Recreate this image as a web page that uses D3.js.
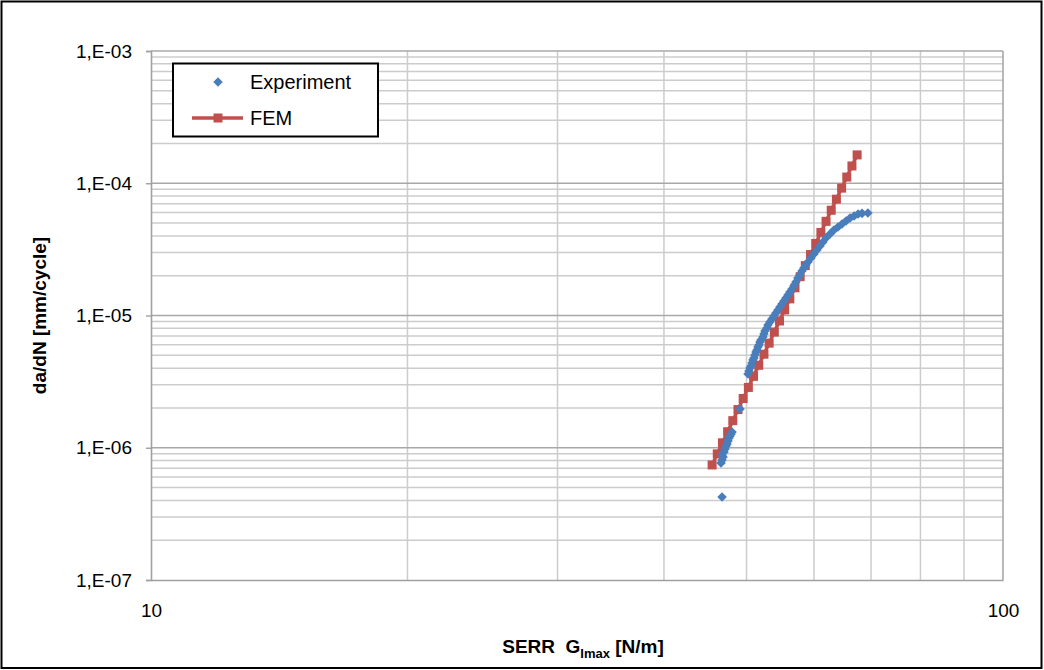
<!DOCTYPE html>
<html>
<head>
<meta charset="utf-8">
<script src="https://cdn.jsdelivr.net/npm/d3@7"></script>
<style>
  html, body { margin: 0; padding: 0; background: #ffffff; }
  svg { display: block; }
  text { font-family: "Liberation Sans", Arial, sans-serif; fill: #000; }
</style>
</head>
<body>
<svg id="chart" width="1044" height="670"></svg>
<script>
// Experiment: SERR G_Imax [N/m] vs crack growth rate da/dN [mm/cycle]
const expG = [46.80, 46.67, 46.80, 46.93, 46.80, 47.05, 47.18, 47.31, 47.44, 47.56, 47.69, 47.82, 47.95, 48.08,
  49.13, 50.20, 50.33, 50.47, 50.61, 50.74, 50.88, 51.02, 51.15, 51.29, 51.43, 51.57, 51.71, 51.85, 51.99,
  52.27, 52.41, 52.55, 52.84, 52.98, 53.26, 53.55, 53.84, 54.13, 54.43, 54.72, 55.02, 55.32, 55.62, 55.92,
  56.22, 56.53, 56.83, 57.14, 57.45, 57.76, 58.08, 58.39, 58.71, 59.03, 59.51, 60.00, 60.48, 60.98, 61.47,
  61.97, 62.65, 63.33, 64.02, 64.72, 65.43, 66.14, 66.87, 67.60, 68.33, 69.41];
const expRate = [4.24e-7, 7.67e-7, 8.08e-7, 8.51e-7, 8.81e-7, 9.29e-7, 9.78e-7, 1.031e-6, 1.068e-6, 1.125e-6,
  1.185e-6, 1.227e-6, 1.271e-6, 1.315e-6, 1.963e-6, 3.61e-6, 3.80e-6, 4.01e-6, 4.15e-6, 4.37e-6, 4.61e-6,
  4.77e-6, 5.03e-6, 5.30e-6, 5.48e-6, 5.78e-6, 5.98e-6, 6.30e-6, 6.53e-6, 6.88e-6, 7.25e-6, 7.64e-6,
  8.04e-6, 8.48e-6, 8.93e-6, 9.41e-6, 9.91e-6, 1.044e-5, 1.100e-5, 1.159e-5, 1.222e-5, 1.287e-5, 1.356e-5,
  1.429e-5, 1.506e-5, 1.586e-5, 1.671e-5, 1.791e-5, 1.921e-5, 2.024e-5, 2.170e-5, 2.286e-5, 2.409e-5,
  2.538e-5, 2.721e-5, 2.917e-5, 3.128e-5, 3.353e-5, 3.594e-5, 3.855e-5, 4.13e-5, 4.43e-5, 4.67e-5,
  4.92e-5, 5.18e-5, 5.46e-5, 5.65e-5, 5.85e-5, 5.92e-5, 5.95e-5];

// FEM prediction
const femG = [45.56, 46.20, 46.85, 47.51, 48.18, 48.86, 49.55, 50.25, 50.96, 51.68, 52.41, 53.15, 53.90, 54.66,
  55.43, 56.21, 57.00, 57.80, 58.61, 59.44, 60.28, 61.13, 61.99, 62.86, 63.75, 64.65, 65.56, 66.48, 67.42];
const femRate = [7.41e-7, 8.99e-7, 1.090e-6, 1.322e-6, 1.603e-6, 1.944e-6, 2.357e-6, 2.858e-6, 3.466e-6,
  4.203e-6, 5.097e-6, 6.180e-6, 7.494e-6, 9.088e-6, 1.102e-5, 1.336e-5, 1.620e-5, 1.965e-5, 2.383e-5,
  2.889e-5, 3.504e-5, 4.249e-5, 5.152e-5, 6.248e-5, 7.576e-5, 9.187e-5, 1.114e-4, 1.351e-4, 1.638e-4];

// Axis ticks and labels
const xTicks = [10, 100];
const xTickLabels = ["10", "100"];
const yTicks = [1e-7, 1e-6, 1e-5, 1e-4, 1e-3];
const yTickLabels = ["1,E-07", "1,E-06", "1,E-05", "1,E-04", "1,E-03"];
const seriesNames = ["Experiment", "FEM"];

const svg = d3.select("#chart");
const W = 1044, H = 670;
const plot = { left: 151, right: 1003, top: 51, bottom: 580 };

const x = d3.scaleLog().domain([10, 100]).range([plot.left, plot.right]);
const y = d3.scaleLog().domain([1e-7, 1e-3]).range([plot.bottom, plot.top]);

// outer frame
svg.append("rect").attr("x", 1.5).attr("y", 1.5).attr("width", W - 4).attr("height", H - 3.5)
  .attr("fill", "#fff").attr("stroke", "#000").attr("stroke-width", 2);

// gridlines: minor (2..9 per decade) and decade lines
const grid = svg.append("g");
const xMinor = [];
for (let m = 2; m <= 9; m++) xMinor.push(10 * m);
grid.selectAll("line.xg").data(xMinor).join("line")
  .attr("x1", d => x(d)).attr("x2", d => x(d))
  .attr("y1", plot.top).attr("y2", plot.bottom)
  .attr("stroke", "#cccccc").attr("stroke-width", 1.5);

const yMinor = [];
for (let e = -7; e < -3; e++) for (let m = 2; m <= 9; m++) yMinor.push(m * Math.pow(10, e));
grid.selectAll("line.yg").data(yMinor).join("line")
  .attr("x1", plot.left).attr("x2", plot.right)
  .attr("y1", d => y(d)).attr("y2", d => y(d))
  .attr("stroke", "#cccccc").attr("stroke-width", 1.5);

grid.selectAll("line.yM").data(yTicks.slice(1)).join("line")
  .attr("x1", plot.left).attr("x2", plot.right)
  .attr("y1", d => y(d)).attr("y2", d => y(d))
  .attr("stroke", "#a8a8a8").attr("stroke-width", 1.6);
grid.append("line").attr("x1", plot.right).attr("x2", plot.right)
  .attr("y1", plot.top).attr("y2", plot.bottom).attr("stroke", "#a8a8a8").attr("stroke-width", 1.6);

// axes
const yAxis = d3.axisLeft(y).tickValues(yTicks)
  .tickFormat((d, i) => yTickLabels[i]).tickSize(5).tickPadding(14);
const gy = svg.append("g").attr("transform", `translate(${plot.left},0)`).call(yAxis);
gy.select(".domain").attr("stroke", "#a0a0a0").attr("stroke-width", 1.6);
gy.selectAll(".tick line").attr("stroke", "#a0a0a0").attr("stroke-width", 1.4);
gy.selectAll(".tick text").attr("font-size", 19).attr("font-family", "Liberation Sans, Arial, sans-serif");

const xAxis = d3.axisBottom(x).tickValues(xTicks)
  .tickFormat((d, i) => xTickLabels[i]).tickSize(0).tickPadding(24);
const gx = svg.append("g").attr("transform", `translate(0,${plot.bottom})`).call(xAxis);
gx.select(".domain").attr("stroke", "#a0a0a0").attr("stroke-width", 1.6);
gx.selectAll(".tick text").attr("font-size", 19).attr("font-family", "Liberation Sans, Arial, sans-serif");

// axis titles
svg.append("text")
  .attr("transform", `translate(46,${(plot.top + plot.bottom) / 2}) rotate(-90)`)
  .attr("text-anchor", "middle").attr("font-size", 19).attr("font-weight", "bold")
  .text("da/dN [mm/cycle]");

const xt = svg.append("text").attr("x", (plot.left + plot.right) / 2 + 6).attr("y", 653)
  .attr("text-anchor", "middle").attr("font-size", 19).attr("font-weight", "bold");
xt.append("tspan").text("SERR\u00a0 G");
xt.append("tspan").attr("font-size", 13).attr("dy", 5).text("Imax");
xt.append("tspan").attr("dy", -5).text(" [N/m]");

// series colours
const blue = "#4a7ebb";
const red = "#c0504d";

// FEM line and square markers
const line = d3.line().x(d => x(d[0])).y(d => y(d[1]));
const femPts = femG.map((g, i) => [g, femRate[i]]);
svg.append("path").datum(femPts).attr("d", line)
  .attr("fill", "none").attr("stroke", red).attr("stroke-width", 3.5);
svg.append("g").selectAll("rect").data(femPts).join("rect")
  .attr("x", d => x(d[0]) - 4.5).attr("y", d => y(d[1]) - 4.5)
  .attr("width", 9).attr("height", 9).attr("fill", red);

// Experiment diamond markers
const diamond = d3.symbol().type(d3.symbolDiamond2).size(58);
const expPts = expG.map((g, i) => [g, expRate[i]]);
svg.append("g").selectAll("path").data(expPts).join("path")
  .attr("d", diamond)
  .attr("transform", d => `translate(${x(d[0])},${y(d[1])})`)
  .attr("fill", blue);

// legend
const lg = svg.append("g");
lg.append("rect").attr("x", 173).attr("y", 63.5).attr("width", 205).attr("height", 73)
  .attr("fill", "#fff").attr("stroke", "#000").attr("stroke-width", 2);
lg.append("path").attr("d", diamond).attr("transform", "translate(218,82)").attr("fill", blue);
lg.append("text").attr("x", 250).attr("y", 89).attr("font-size", 20).text(seriesNames[0]);
lg.append("line").attr("x1", 192).attr("x2", 243).attr("y1", 118).attr("y2", 118)
  .attr("stroke", red).attr("stroke-width", 3.5);
lg.append("rect").attr("x", 213.5).attr("y", 113.5).attr("width", 9).attr("height", 9).attr("fill", red);
lg.append("text").attr("x", 250).attr("y", 125).attr("font-size", 20).text(seriesNames[1]);
</script>
</body>
</html>
